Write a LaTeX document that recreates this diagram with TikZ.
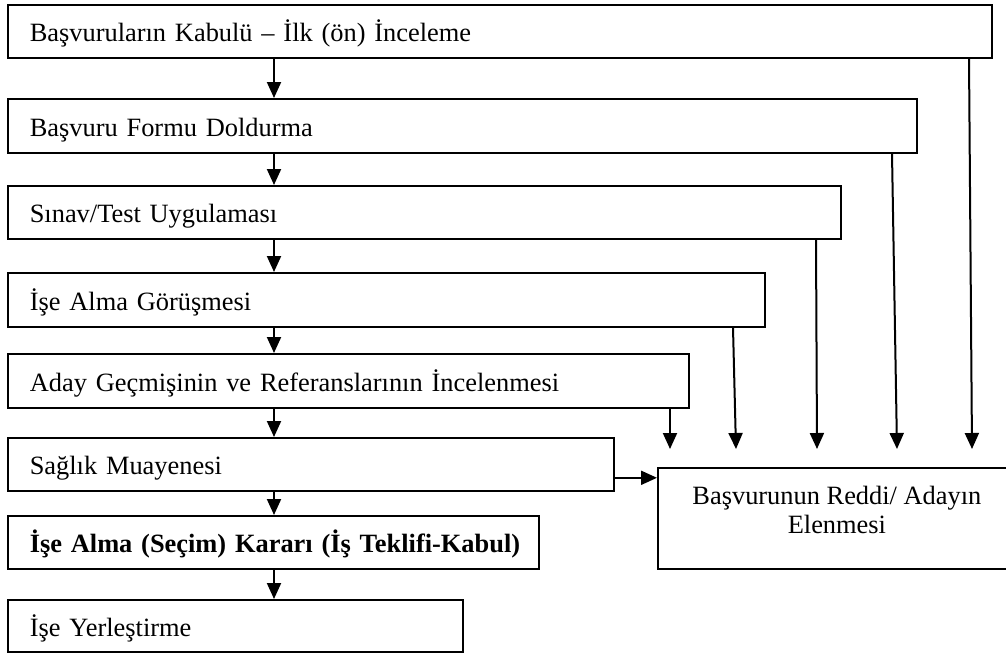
\documentclass[tikz,border=0pt]{standalone}
\usepackage{fontspec}
\setmainfont{Liberation Serif}
\usetikzlibrary{arrows.meta,calc}
\begin{document}
\begin{tikzpicture}[x=1pt,y=-1pt,
  box/.style={draw, line width=1.6pt, anchor=north west, inner xsep=22pt, inner ysep=0pt,
    align=left, text height=26pt, text depth=5pt,
    font=\fontsize{26.4}{29}\selectfont},
  rejbox/.style={draw, line width=1.8pt, anchor=north west, inner sep=0pt},
  rejtext/.style={align=center, inner sep=0pt, font=\fontsize{26.4}{29}\selectfont},
  arr/.style={line width=2pt, -{Triangle[length=16pt,width=14pt]}}]
\useasboundingbox (0,0) rectangle (1006,653);
\clip (0,0) rectangle (1006,653);
\fill[white] (0,0) rectangle (1006,653);

\node[box, minimum width=984pt, minimum height=53pt, text width=940pt] (b1) at (7,4) {Başvuruların Kabulü – İlk (ön) İnceleme};
\node[box, minimum width=909pt, minimum height=54pt, text width=865pt] (b2) at (7,98) {Başvuru Formu Doldurma};
\node[box, minimum width=833pt, minimum height=53pt, text width=789pt] (b3) at (7,185) {Sınav/Test Uygulaması};
\node[box, minimum width=757pt, minimum height=54pt, text width=713pt] (b4) at (7,272) {İşe Alma Görüşmesi};
\node[box, minimum width=681pt, minimum height=54pt, text width=637pt] (b5) at (7,353) {Aday Geçmişinin ve Referanslarının İncelenmesi};
\node[box, minimum width=606pt, minimum height=53pt, text width=562pt] (b6) at (7,437) {Sağlık Muayenesi};
\node[box, minimum width=531pt, minimum height=53pt, text width=487pt] (b7) at (7,515) {\mbox{\textbf{İşe Alma (Seçim) Kararı (İş Teklifi-Kabul)}}};
\node[box, minimum width=455pt, minimum height=52pt, text width=411pt] (b8) at (7,599) {İşe Yerleştirme};
\node[rejbox, minimum width=358pt, minimum height=101pt] (rej) at (657,467) {};
\node[rejtext] (rejt) at ([yshift=8pt]rej.center) {Başvurunun Reddi/ Adayın\\Elenmesi};

\coordinate (axis) at (274,0);
\draw[arr] (b1.south -| axis) -- (b2.north -| axis);
\draw[arr] (b2.south -| axis) -- (b3.north -| axis);
\draw[arr] (b3.south -| axis) -- (b4.north -| axis);
\draw[arr] (b4.south -| axis) -- (b5.north -| axis);
\draw[arr] (b5.south -| axis) -- (b6.north -| axis);
\draw[arr] (b6.south -| axis) -- (b7.north -| axis);
\draw[arr] (b7.south -| axis) -- (b8.north -| axis);

\coordinate (t1) at (972,449);
\coordinate (t2) at (897,449);
\coordinate (t3) at (817,449);
\coordinate (t4) at (736,449);
\coordinate (t5) at (670,449);
\draw[arr] ([xshift=962pt]b1.south west) -- (t1);
\draw[arr] ([xshift=885pt]b2.south west) -- (t2);
\draw[arr] ([xshift=809pt]b3.south west) -- (t3);
\draw[arr] ([xshift=726pt]b4.south west) -- (t4);
\draw[arr] ([xshift=663pt]b5.south west) -- (t5);
\draw[arr] ([yshift=-13.5pt]b6.east) -- ([yshift=-13.5pt]b6.east -| rej.west);
\end{tikzpicture}
\end{document}
